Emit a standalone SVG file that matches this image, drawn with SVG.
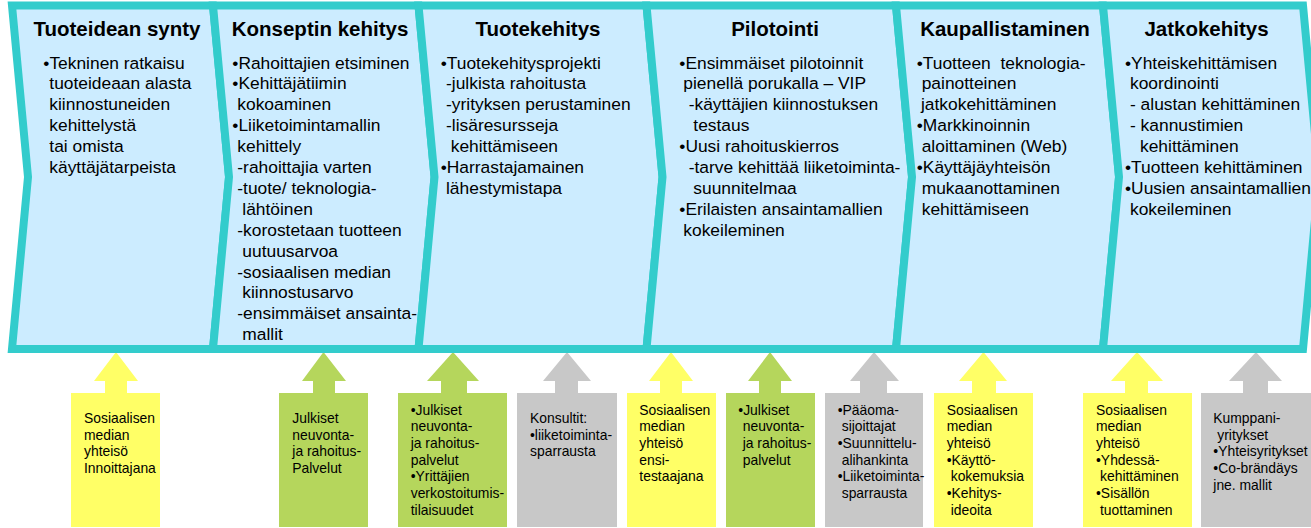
<svg xmlns="http://www.w3.org/2000/svg" width="1311" height="528" viewBox="0 0 1311 528">
  <style>
    .stage { fill: #CCECFF; stroke: #33CCCC; stroke-width: 8; stroke-linejoin: miter; }
    .head { font-family: "Liberation Sans", Arial, sans-serif; font-size: 20.5px; font-weight: bold; fill: #000; text-anchor: middle; }
    .body { font-family: "Liberation Sans", Arial, sans-serif; font-size: 17.4px; fill: #000; white-space: pre; }
    .note { font-family: "Liberation Sans", Arial, sans-serif; font-size: 13.9px; fill: #000; }
    .yellow { fill: #FFFF66; }
    .green { fill: #B5D65C; }
    .grey { fill: #C8C8C8; }
  </style>

  <!-- support arrows below the process band -->
  <g id="support-1">
    <polygon class="yellow" points="71,527 71,393 105,393 105,381 94,381 116,352 138,381 127,381 127,393 160,393 160,527"/>
    <text class="note"><tspan x="84" y="423">Sosiaalisen</tspan><tspan x="84" y="439.7">median</tspan><tspan x="84" y="456.4">yhteisö</tspan><tspan x="84" y="473.1">Innoittajana</tspan></text>
  </g>
  <g id="support-2">
    <polygon class="green" points="279,527 279,393 313,393 313,381 302,381 323.5,352 346,381 335,381 335,393 368,393 368,527"/>
    <text class="note"><tspan x="292.3" y="423">Julkiset</tspan><tspan x="292.3" y="439.7">neuvonta-</tspan><tspan x="292.3" y="456.4">ja rahoitus-</tspan><tspan x="292.3" y="473.1">Palvelut</tspan></text>
  </g>
  <g id="support-3">
    <polygon class="green" points="398,527 398,393 441,393 441,381 427,381 453,352 479,381 467,381 467,393 507,393 507,527"/>
    <text class="note"><tspan x="410.7" y="414.5">•Julkiset</tspan><tspan x="410.7" y="431.2">neuvonta-</tspan><tspan x="410.7" y="447.9">ja rahoitus-</tspan><tspan x="410.7" y="464.6">palvelut</tspan><tspan x="410.7" y="481.3">•Yrittäjien</tspan><tspan x="410.7" y="498">verkostoitumis-</tspan><tspan x="410.7" y="514.7">tilaisuudet</tspan></text>
  </g>
  <g id="support-4">
    <polygon class="grey" points="517,527 517,393 555,393 555,381 543,381 567,352 591,381 578,381 578,393 617,393 617,527"/>
    <text class="note"><tspan x="530" y="423">Konsultit:</tspan><tspan x="530" y="439.7">•liiketoiminta-</tspan><tspan x="530" y="456.4">sparrausta</tspan></text>
  </g>
  <g id="support-5">
    <polygon class="yellow" points="627,527 627,393 660,393 660,381 649,381 671,352 693,381 682,381 682,393 716,393 716,527"/>
    <text class="note"><tspan x="639.3" y="414.5">Sosiaalisen</tspan><tspan x="639.3" y="431.2">median</tspan><tspan x="639.3" y="447.9">yhteisö</tspan><tspan x="639.3" y="464.6">ensi-</tspan><tspan x="639.3" y="481.3">testaajana</tspan></text>
  </g>
  <g id="support-6">
    <polygon class="green" points="726,527 726,393 759,393 759,381 748,381 770,352 792,381 781,381 781,393 815,393 815,527"/>
    <text class="note"><tspan x="738.3" y="414.5">•Julkiset</tspan><tspan x="742.7" y="431.2">neuvonta-</tspan><tspan x="742.7" y="447.9">ja rahoitus-</tspan><tspan x="742.7" y="464.6">palvelut</tspan></text>
  </g>
  <g id="support-7">
    <polygon class="grey" points="825,527 825,393 860,393 860,381 850,381 874,352 899,381 887,381 887,393 923,393 923,527"/>
    <text class="note"><tspan x="837.7" y="414.5">•Pääoma-</tspan><tspan x="841.7" y="431.2">sijoittajat</tspan><tspan x="837.7" y="447.9">•Suunnittelu-</tspan><tspan x="841.7" y="464.6">alihankinta</tspan><tspan x="837.7" y="481.3">•Liiketoiminta-</tspan><tspan x="841.7" y="498">sparrausta</tspan></text>
  </g>
  <g id="support-8">
    <polygon class="yellow" points="934,527 934,393 972,393 972,381 959,381 983.5,352 1007,381 996,381 996,393 1033,393 1033,527"/>
    <text class="note"><tspan x="946.7" y="414.5">Sosiaalisen</tspan><tspan x="946.7" y="431.2">median</tspan><tspan x="946.7" y="447.9">yhteisö</tspan><tspan x="946.7" y="464.6">•Käyttö-</tspan><tspan x="950.7" y="481.3">kokemuksia</tspan><tspan x="946.7" y="498">•Kehitys-</tspan><tspan x="950.7" y="514.7">ideoita</tspan></text>
  </g>
  <g id="support-9">
    <polygon class="yellow" points="1083,527 1083,393 1125,393 1125,381 1111,381 1137,352 1163,381 1148,381 1148,393 1192,393 1192,527"/>
    <text class="note"><tspan x="1096" y="414.5">Sosiaalisen</tspan><tspan x="1096" y="431.2">median</tspan><tspan x="1096" y="447.9">yhteisö</tspan><tspan x="1096" y="464.6">•Yhdessä-</tspan><tspan x="1100" y="481.3">kehittäminen</tspan><tspan x="1096" y="498">•Sisällön</tspan><tspan x="1100" y="514.7">tuottaminen</tspan></text>
  </g>
  <g id="support-10">
    <polygon class="grey" points="1201,527 1201,393 1243,393 1243,381 1229,381 1256,352 1282,381 1268,381 1268,393 1311,393 1311,527"/>
    <text class="note"><tspan x="1213.3" y="423">Kumppani-</tspan><tspan x="1217.3" y="439.7">yritykset</tspan><tspan x="1213.3" y="456.4">•Yhteisyritykset</tspan><tspan x="1213.3" y="473.1">•Co-brändäys</tspan><tspan x="1213.3" y="489.8">jne. mallit</tspan></text>
  </g>

  <!-- process stages (chevrons) -->
  <g id="stage-1">
    <polygon class="stage" points="12,5.5 213,5.5 229,177 213,349 12,349 28,177"/>
    <text class="head" x="117" y="36">Tuoteidean synty</text>
    <text class="body"><tspan x="43.3" y="68.5">•Tekninen ratkaisu</tspan><tspan x="49.3" y="89.4">tuoteideaan alasta</tspan><tspan x="49.3" y="110.3">kiinnostuneiden</tspan><tspan x="49.3" y="131.2">kehittelystä</tspan><tspan x="49.3" y="152.1">tai omista</tspan><tspan x="49.3" y="173">käyttäjätarpeista</tspan></text>
  </g>
  <g id="stage-2">
    <polygon class="stage" points="213,5.5 418.5,5.5 434.5,177 418.5,349 213,349 229,177"/>
    <text class="head" x="320" y="36">Konseptin kehitys</text>
    <text class="body"><tspan x="232.3" y="68.5">•Rahoittajien etsiminen</tspan><tspan x="232.3" y="89.4">•Kehittäjätiimin</tspan><tspan x="237.3" y="110.3">kokoaminen</tspan><tspan x="232.3" y="131.2">•Liiketoimintamallin</tspan><tspan x="237.3" y="152.1">kehittely</tspan><tspan x="237.3" y="173">-rahoittajia varten</tspan><tspan x="237.3" y="193.9">-tuote/ teknologia-</tspan><tspan x="242.3" y="214.8">lähtöinen</tspan><tspan x="237.3" y="235.7">-korostetaan tuotteen</tspan><tspan x="242.3" y="256.6">uutuusarvoa</tspan><tspan x="237.3" y="277.5">-sosiaalisen median</tspan><tspan x="242.3" y="298.4">kiinnostusarvo</tspan><tspan x="237.3" y="319.3">-ensimmäiset ansainta-</tspan><tspan x="242.3" y="340.2">mallit</tspan></text>
  </g>
  <g id="stage-3">
    <polygon class="stage" points="418.5,5.5 646.5,5.5 662.5,177 646.5,349 418.5,349 434.5,177"/>
    <text class="head" x="538" y="36">Tuotekehitys</text>
    <text class="body"><tspan x="440.7" y="68.5">•Tuotekehitysprojekti</tspan><tspan x="446" y="89.4">-julkista rahoitusta</tspan><tspan x="446" y="110.3">-yrityksen perustaminen</tspan><tspan x="446" y="131.2">-lisäresursseja</tspan><tspan x="450.7" y="152.1">kehittämiseen</tspan><tspan x="440.7" y="173">•Harrastajamainen</tspan><tspan x="446" y="193.9">lähestymistapa</tspan></text>
  </g>
  <g id="stage-4">
    <polygon class="stage" points="646.5,5.5 896,5.5 912,177 896,349 646.5,349 662.5,177"/>
    <text class="head" x="775" y="36">Pilotointi</text>
    <text class="body"><tspan x="679.3" y="68.5">•Ensimmäiset pilotoinnit</tspan><tspan x="683.3" y="89.4">pienellä porukalla – VIP</tspan><tspan x="688.7" y="110.3">-käyttäjien kiinnostuksen</tspan><tspan x="693.3" y="131.2">testaus</tspan><tspan x="679.3" y="152.1">•Uusi rahoituskierros</tspan><tspan x="688.7" y="173">-tarve kehittää liiketoiminta-</tspan><tspan x="693.3" y="193.9">suunnitelmaa</tspan><tspan x="679.3" y="214.8">•Erilaisten ansaintamallien</tspan><tspan x="683.3" y="235.7">kokeileminen</tspan></text>
  </g>
  <g id="stage-5">
    <polygon class="stage" points="896,5.5 1103,5.5 1119,177 1103,349 896,349 912,177"/>
    <text class="head" x="1005" y="36">Kaupallistaminen</text>
    <text class="body"><tspan x="916.7" y="68.5">•Tuotteen  teknologia-</tspan><tspan x="921.7" y="89.4">painotteinen</tspan><tspan x="921" y="110.3">jatkokehittäminen</tspan><tspan x="916.7" y="131.2">•Markkinoinnin</tspan><tspan x="921.7" y="152.1">aloittaminen (Web)</tspan><tspan x="916.7" y="173">•Käyttäjäyhteisön</tspan><tspan x="921.7" y="193.9">mukaanottaminen</tspan><tspan x="921.7" y="214.8">kehittämiseen</tspan></text>
  </g>
  <g id="stage-6">
    <polygon class="stage" points="1103,5.5 1303,5.5 1319,177 1303,349 1103,349 1119,177"/>
    <text class="head" x="1206.5" y="36">Jatkokehitys</text>
    <text class="body"><tspan x="1125" y="68.5">•Yhteiskehittämisen</tspan><tspan x="1130" y="89.4">koordinointi</tspan><tspan x="1130" y="110.3">- alustan kehittäminen</tspan><tspan x="1130" y="131.2">- kannustimien</tspan><tspan x="1140" y="152.1">kehittäminen</tspan><tspan x="1125" y="173">•Tuotteen kehittäminen</tspan><tspan x="1125" y="193.9">•Uusien ansaintamallien</tspan><tspan x="1130" y="214.8">kokeileminen</tspan></text>
  </g>

  <!-- the support arrows are drawn as part of their nodes; no separate connectors -->
  <g id="connectors"/>
</svg>
